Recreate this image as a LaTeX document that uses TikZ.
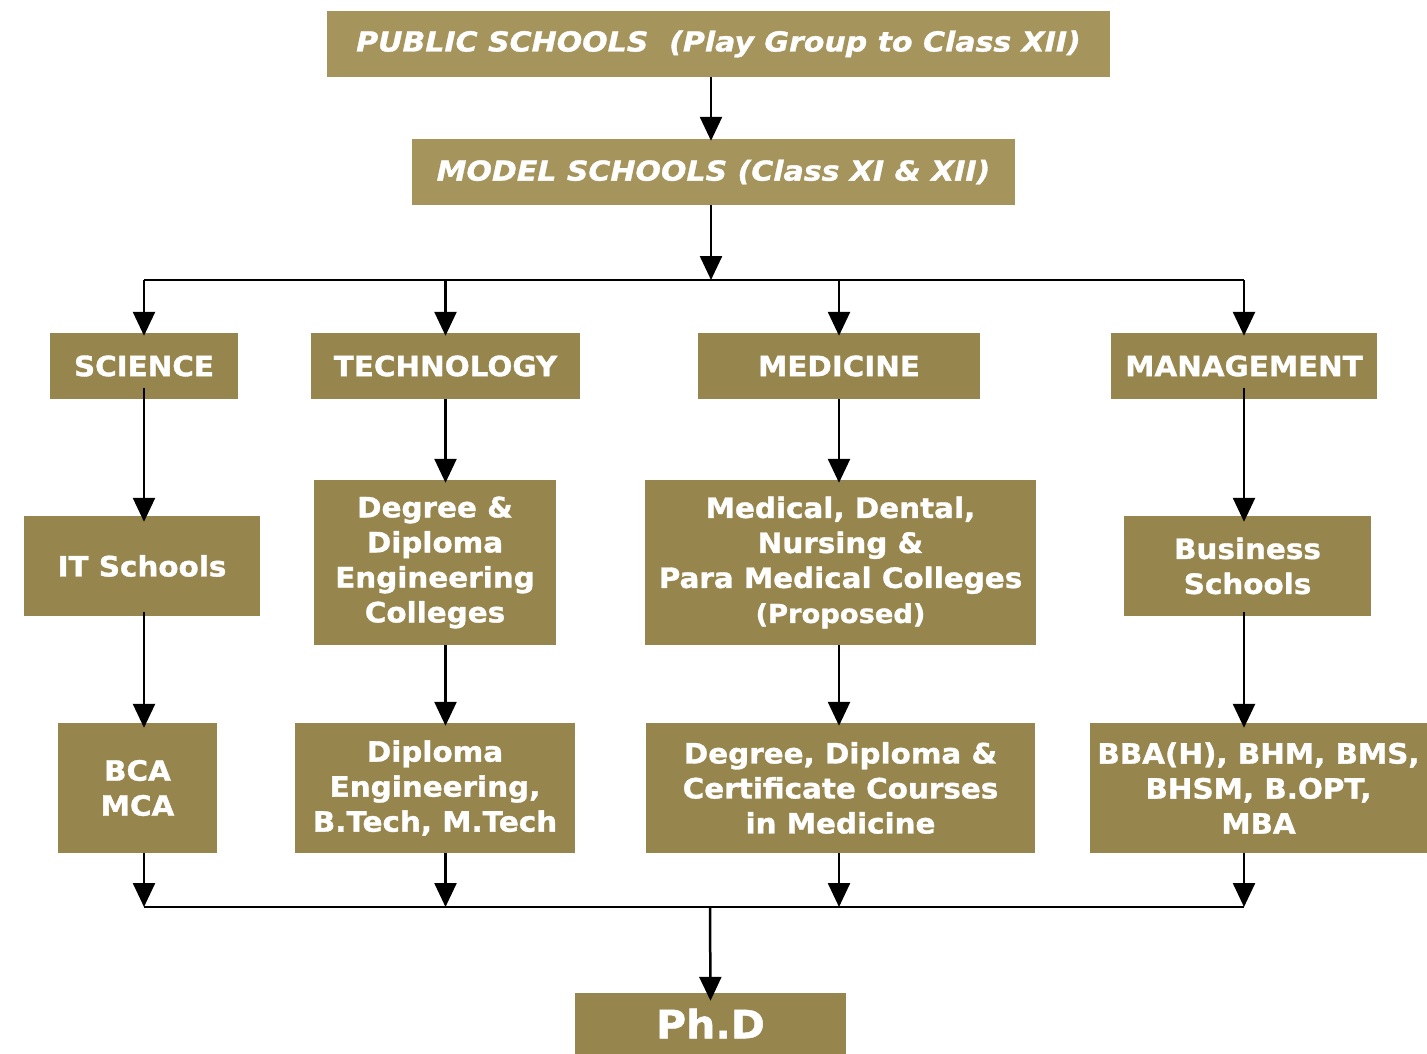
\documentclass[tikz,border=0pt]{standalone}
\usepackage{fontspec}
\setmainfont{DejaVu Sans}[FakeStretch=1.05,BoldFeatures={FakeBold=1.2}]
\newfontfamily\topfont{DejaVu Sans}[FakeStretch=1.09,BoldItalicFeatures={FakeBold=1.2}]
\usepackage{tikz}
\usetikzlibrary{arrows.meta}
\definecolor{topfill}{RGB}{165,149,93}
\definecolor{boxfill}{RGB}{150,134,77}

\begin{document}
\begin{tikzpicture}[x=1pt,y=-1pt,
		node_style/.style={rectangle,fill=boxfill,text=white,inner sep=0pt,align=center,font=\bfseries\fontsize{28}{35}\selectfont},
		top_style/.style={node_style,fill=topfill,font=\topfont\bfseries\itshape\fontsize{27.5}{33}\selectfont},
		edge_style/.style={draw=black,line width=2.5pt,-{Triangle[width=22pt,length=24pt]}},
		line_style/.style={draw=black,line width=2.5pt}]

		\useasboundingbox (0,0) rectangle (1427,1054);

		\node[top_style,minimum width=783,minimum height=66] (pub) at (718.5,44) {PUBLIC SCHOOLS\ \ (Play Group to Class XII)};
		\node[top_style,minimum width=603,minimum height=66] (model) at (713.5,172) {MODEL SCHOOLS (Class XI \& XII)};

		\node[node_style,minimum width=188,minimum height=66] (sci) at (144,366) {SCIENCE};
		\node[node_style,minimum width=269,minimum height=66] (tech) at (445.5,366) {TECHNOLOGY};
		\node[node_style,minimum width=282,minimum height=66] (med) at (839,366) {MEDICINE};
		\node[node_style,minimum width=266,minimum height=66] (mgmt) at (1244,366) {MANAGEMENT};

		\node[node_style,minimum width=236,minimum height=100] (its) at (142,566) {IT Schools};
		\node[node_style,minimum width=242,minimum height=165] (engg) at (435,562.5) {Degree \&\\Diploma\\Engineering\\Colleges};
		\node[node_style,minimum width=391,minimum height=165] (medcol) at (840.5,562.5) {Medical, Dental,\\Nursing \&\\Para Medical Colleges\\{\fontsize{26}{30}\selectfont(Proposed)}};
		\node[node_style,minimum width=247,minimum height=100] (busi) at (1247.5,566) {Business\\Schools};

		\node[node_style,minimum width=159,minimum height=130] (bca) at (137.5,788) {BCA\\MCA};
		\node[node_style,minimum width=280,minimum height=130] (dipl) at (435,788) {Diploma\\Engineering,\\B.Tech, M.Tech};
		\node[node_style,minimum width=389,minimum height=130] (cert) at (840.5,788) {Degree, Diploma \&\\Certificate Courses\\in Medicine};
		\node[node_style,minimum width=337,minimum height=130] (bba) at (1258.5,788) {BBA(H), BHM, BMS,\\BHSM, B.OPT,\\MBA};

		\node[node_style,minimum width=271,minimum height=61,font=\bfseries\fontsize{39}{44}\selectfont] (phd) at (710.5,1023.5) {Ph.D};

		\coordinate (split) at (711,280);
		\coordinate (join) at (710,907);

		% top of the tree
		\draw[edge_style] (pub.south -| split) -- ([yshift=-2pt]model.north -| split);
		\draw[edge_style] (model.south -| split) -- (split);
		\draw[line_style] (sci |- split) -- (mgmt |- split);
		\foreach \n in {sci,tech,med,mgmt}
			\draw[edge_style] (\n |- split) -- ([yshift=-3pt]\n.north);

		% the four streams
		\draw[edge_style] ([yshift=11pt]sci.south) -- ([yshift=-6pt]sci |- its.north);
		\draw[edge_style] (tech.south) -- ([yshift=-3pt]tech |- engg.north);
		\draw[edge_style] (med.south) -- ([yshift=-3pt]med |- medcol.north);
		\draw[edge_style] ([yshift=11pt]mgmt.south) -- ([yshift=-6pt]mgmt |- busi.north);

		\draw[edge_style] ([yshift=4pt]sci |- its.south) -- ([yshift=-5pt]sci |- bca.north);
		\draw[edge_style] (tech |- engg.south) -- ([yshift=-3pt]tech |- dipl.north);
		\draw[edge_style] (med |- medcol.south) -- ([yshift=-3pt]med |- cert.north);
		\draw[edge_style] ([yshift=4pt]mgmt |- busi.south) -- ([yshift=-5pt]mgmt |- bba.north);

		% bottom of the tree
		\foreach \n in {sci,tech,med,mgmt}
			\draw[edge_style] (\n |- bca.south) -- (\n |- join);
		\draw[line_style] (sci |- join) -- (mgmt |- join);
		\draw[edge_style] (join) -- ([yshift=-8pt]phd.north);

\end{tikzpicture}
\end{document}
